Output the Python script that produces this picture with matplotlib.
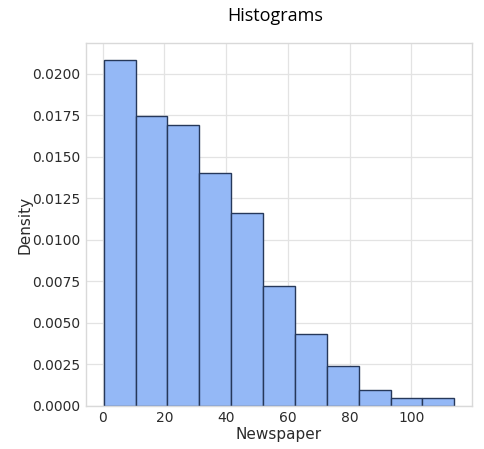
import matplotlib
matplotlib.use("Agg")
import matplotlib.pyplot as plt
import numpy as np

# Newspaper histogram (density), 11 bins over 0.3 .. 114
bin_edges = np.linspace(0.3, 114.0, 12)
density = [0.0208, 0.01743, 0.01693, 0.01402, 0.01161, 0.00723,
           0.00434, 0.00241, 0.00094, 0.00046, 0.00046]
yticks = [0.0, 0.0025, 0.005, 0.0075, 0.01, 0.0125, 0.015, 0.0175, 0.02]
xticks = [0, 20, 40, 60, 80, 100]

fig = plt.figure(figsize=(4.84, 4.49), dpi=100)
ax = fig.add_axes([0.178, 0.096, 0.797, 0.808])

widths = np.diff(bin_edges)
ax.bar(bin_edges[:-1], density, width=widths, align='edge',
       color='#94b8f6', edgecolor='#26385a', linewidth=1.0, zorder=2)

ax.set_xticks(xticks)
ax.set_yticks(yticks)
ax.set_yticklabels(["%.4f" % v for v in yticks])
ax.grid(True, color='#e3e3e3', linewidth=0.9, zorder=0)
ax.set_axisbelow(True)
ax.tick_params(length=0, labelsize=10, labelcolor='#2b2b2b', pad=4)
for s in ax.spines.values():
    s.set_color('#d9d9d9')
    s.set_linewidth(1.0)

ax.set_xlabel("Newspaper", fontsize=11, color='#2b2b2b', labelpad=1)
ax.set_ylabel("Density", fontsize=11, color='#2b2b2b', labelpad=0)

fig.text(0.568, 0.965, "Histograms", ha='center', va='center', fontsize=13,
         family='Open Sans')

fig.savefig("out.png", dpi=100)
